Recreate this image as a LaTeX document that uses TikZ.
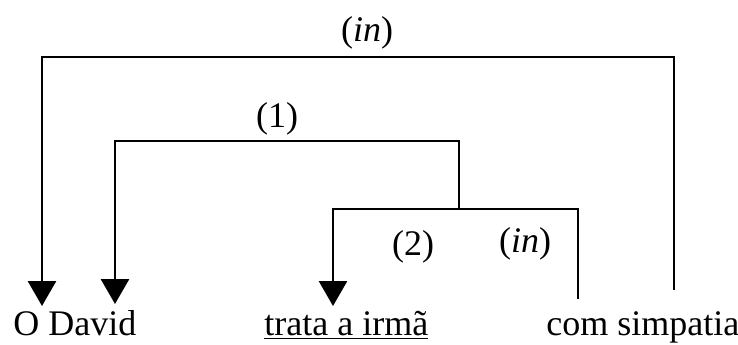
\documentclass[tikz,border=0pt]{standalone}
\usepackage{fontspec}
\setmainfont{Liberation Serif}
\usetikzlibrary{arrows.meta}

\begin{document}
\begin{tikzpicture}[x=0.5pt,y=-0.5pt,>={Triangle[width=14pt,length=12.5pt]},line width=1.4pt,
  every node/.style={inner sep=0pt,font=\fontsize{18}{21}\selectfont},word/.style={anchor=base west}]
\useasboundingbox (0,0) rectangle (738,344);
% words
\node[word] (david) at (12,335) {O David};
\node[word] (trata) at (263,335) {\underline{trata a irmã}};
\node[word] (simpatia) at (545,335) {com simpatia};
% ends of the brackets
\coordinate (davidA) at (42,306);
\coordinate (davidB) at (115,304);
\coordinate (trataT) at (333,306);
\coordinate (simL) at (578,299);
\coordinate (simR) at (674,290);
\coordinate (join) at (459,209);
% brackets
\draw[->] (simL) |- (join) -| (trataT);
\draw[->] (join) -- ++(0,-68) -| (davidB);
\draw[->] (simR) -- ++(0,-233) -| (davidA);
% labels
\node (inA) at (367,33) {(\textit{in})};
\node (one) at (277,119) {(1)};
\node (two) at (413,247) {(2)};
\node (inB) at (525,244) {(\textit{in})};
\end{tikzpicture}
\end{document}
